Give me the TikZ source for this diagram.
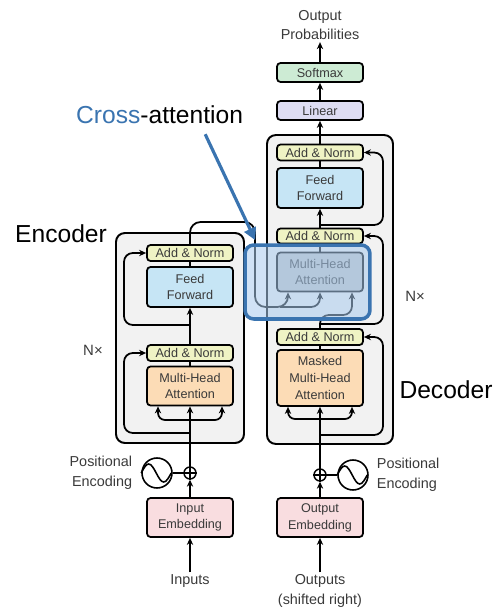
\documentclass[tikz,border=0pt]{standalone}
\usepackage{fontspec}
\setmainfont{Liberation Sans}
\usetikzlibrary{arrows.meta, positioning, calc}
\definecolor{anYellow}{HTML}{EFF3C4}
\definecolor{ffBlue}{HTML}{C6E5F5}
\definecolor{mhaOrange}{HTML}{FCDCB6}
\definecolor{embPink}{HTML}{F9DDE0}
\definecolor{smGreen}{HTML}{CDEBD4}
\definecolor{linLilac}{HTML}{DEDDF3}
\definecolor{crossGray}{HTML}{C2C5C8}
\definecolor{blockGray}{HTML}{F2F2F2}
\definecolor{txtGray}{HTML}{3A3A3A}
\definecolor{xBlue}{HTML}{3A74B0}
\definecolor{xFill}{HTML}{A9CBEE}

\begin{document}
\begin{tikzpicture}[
    x=0.02cm, y=-0.02cm,
    block/.style={draw, fill=blockGray, line width=1.1pt, rounded corners=5pt, inner sep=0pt},
    layer/.style={draw, line width=1pt, rounded corners=2pt, minimum width=1.72cm,
                  inner sep=0pt, align=center, text=txtGray,
                  font=\fontsize{7.2}{9.6}\selectfont},
    addnorm/.style={layer, fill=anYellow, minimum height=0.32cm},
    ffwd/.style={layer, fill=ffBlue, minimum height=0.8cm},
    mha/.style={layer, fill=mhaOrange, minimum height=0.78cm},
    embed/.style={layer, fill=embPink, minimum height=0.78cm},
    plus/.style={circle, draw, line width=0.8pt, minimum size=0.24cm, inner sep=0pt},
    wave/.style={circle, draw, line width=0.9pt, minimum size=0.6cm, inner sep=0pt},
    arr/.style={-{Stealth[length=4pt, width=3.6pt]}, line width=1pt},
    wire/.style={line width=1pt},
    lbl/.style={align=center, inner sep=1pt, text=txtGray,
                font=\fontsize{8.2}{11.3}\selectfont},
    big/.style={font=\fontsize{14}{16}\selectfont},
  ]
    \useasboundingbox (0,0) rectangle (500,612);

    % the two stacks
    \node[block, minimum width=2.56cm, minimum height=4.2cm] (encBlock) at (180,338) {};
    \node[block, minimum width=2.52cm, minimum height=6.18cm] (decBlock) at (330,289.5) {};

    % encoder layers
    \node[addnorm] (encAN2) at (190,253) {Add \& Norm};
    \node[ffwd] (encFF) at (190,287) {Feed\\Forward};
    \node[addnorm] (encAN1) at (190,353) {Add \& Norm};
    \node[mha] (encMHA) at (190,386) {Multi-Head\\Attention};
    \node[embed] (encEmb) at (190,517.5) {Input\\Embedding};
    \node[plus] (encAdd) at (190,473) {};
    \node[wave] (encPE) at (157,473) {};
    \node[lbl, align=right, left=0.14cm of encPE] (encPElbl) {Positional\\Encoding};
    \node[lbl] (inputs) at (190,581) {Inputs};
    \node[lbl, font=\fontsize{8.5}{10}\selectfont] (encN) at (93,350) {N×};

    % decoder layers
    \node[addnorm] (decAN3) at (320,152.5) {Add \& Norm};
    \node[ffwd] (decFF) at (320,188) {Feed\\Forward};
    \node[addnorm, minimum height=0.3cm] (decAN2) at (320,236) {Add \& Norm};
    \node[layer, fill=crossGray, minimum height=0.78cm] (decMHA2) at (320,272) {Multi-Head\\Attention};
    \node[addnorm] (decAN1) at (320,337) {Add \& Norm};
    \node[mha, minimum height=1.12cm] (decMHA1) at (320,378) {Masked\\Multi-Head\\Attention};
    \node[embed] (decEmb) at (320,517.5) {Output\\Embedding};
    \node[plus] (decAdd) at (320,475) {};
    \node[wave] (decPE) at (353,475) {};
    \node[lbl, align=left, right=0.12cm of decPE] (decPElbl) {Positional\\Encoding};
    \node[lbl] (outputs) at (320,591) {Outputs\\(shifted right)};
    \node[lbl, font=\fontsize{8.5}{10}\selectfont] (decN) at (415,296) {N×};
    \node[layer, fill=linLilac, minimum height=0.38cm] (linear) at (320,110.5) {Linear};
    \node[layer, fill=smGreen, minimum height=0.38cm] (softmax) at (320,72.5) {Softmax};
    \node[lbl] (probs) at (320,25) {Output\\Probabilities};

    % positional encodings
    \foreach \p in {encAdd, decAdd}
      \draw[line width=0.8pt] (\p.north) -- (\p.south) (\p.west) -- (\p.east);
    \foreach \w in {encPE, decPE}
      \draw[line width=0.9pt] (\w.west) sin ++(7.5,-9) cos ++(7.5,9) sin ++(7.5,9) cos ++(7.5,-9);
    \draw[line width=0.9pt] (encPE) -- (encAdd);
    \draw[line width=0.9pt] (decPE) -- (decAdd);

    % encoder wiring
    \coordinate (encRail) at (124,0);
    \coordinate (encFork) at (190,420);
    \coordinate (encRes1) at (190,433);
    \coordinate (encRes2) at (190,325);
    \draw[arr] (inputs) -- (encEmb);
    \draw[arr] (encEmb) -- (encAdd);
    \draw[arr] (encAdd) -- (encMHA);
    \draw[arr, rounded corners=4pt] (encFork) -| ($(encMHA.south)+(-32,0)$);
    \draw[arr, rounded corners=4pt] (encFork) -| ($(encMHA.south)+(32,0)$);
    \draw[arr, rounded corners=5pt] (encRes1) -| (encRail |- encAN1) -- (encAN1.west);
    \draw[wire] (encMHA) -- (encAN1);
    \draw[arr] (encAN1) -- (encFF);
    \draw[arr, rounded corners=5pt] (encRes2) -| (encRail |- encAN2) -- (encAN2.west);
    \draw[wire] (encFF) -- (encAN2);

    % decoder wiring
    \coordinate (decRail) at (383,0);
    \coordinate (decFork) at (320,419);
    \coordinate (decRes1) at (320,435);
    \coordinate (decSplit) at (320,315);
    \coordinate (decRes2) at (320,324);
    \coordinate (decRes3) at (320,225);
    \draw[arr] (outputs) -- (decEmb);
    \draw[arr] (decEmb) -- (decAdd);
    \draw[arr] (decAdd) -- (decMHA1);
    \draw[arr, rounded corners=4pt] (decFork) -| ($(decMHA1.south)+(-32,0)$);
    \draw[arr, rounded corners=4pt] (decFork) -| ($(decMHA1.south)+(32,0)$);
    \draw[arr, rounded corners=5pt] (decRes1) -| (decRail |- decAN1) -- (decAN1.east);
    \draw[wire] (decMHA1) -- (decAN1);
    \draw[arr, rounded corners=5pt] (decAN1.north) -- (decSplit) -| ($(decMHA2.south)+(32,0)$);
    \draw[arr, rounded corners=5pt] (decRes2) -| (decRail |- decAN2) -- (decAN2.east);
    \draw[wire] (decMHA2) -- (decAN2);
    \draw[arr] (decAN2) -- (decFF);
    \draw[arr, rounded corners=5pt] (decRes3) -| (decRail |- decAN3) -- (decAN3.east);
    \draw[wire] (decFF) -- (decAN3);
    \draw[arr] (decAN3) -- (linear);
    \draw[arr] (linear) -- (softmax);
    \draw[arr] (softmax) -- (probs);

    % encoder output into the decoder
    \coordinate (memTop) at (255,222);
    \coordinate (memLow) at (255,307);
    \coordinate (memMid) at (280,307);
    \draw[arr, rounded corners=6pt] (encAN2.north) |- (memTop) -- (memLow) -| ($(decMHA2.south)+(-32,0)$);
    \draw[arr, rounded corners=5pt] (memMid) -| (decMHA2.south);

    % cross-attention highlight
    \node[draw=xBlue, line width=2pt, fill=xFill, fill opacity=0.55,
          rounded corners=5pt, minimum width=2.5cm, minimum height=1.48cm] (xattn) at (307.5,282) {};
    \node[big, anchor=west] (crossLbl) at (70,115) {\textcolor{xBlue}{Cross}-attention};
    \draw[-{Triangle[length=7pt, width=7pt]}, draw=xBlue, fill=xBlue, line width=1.8pt]
      ($(crossLbl.south east)+(-44,4)$) -- ($(xattn.north west)+(12,-3)$);

    \node[big] (encLbl) at (61,234) {Encoder};
    \node[big] (decLbl) at (446,390) {Decoder};
\end{tikzpicture}
\end{document}
